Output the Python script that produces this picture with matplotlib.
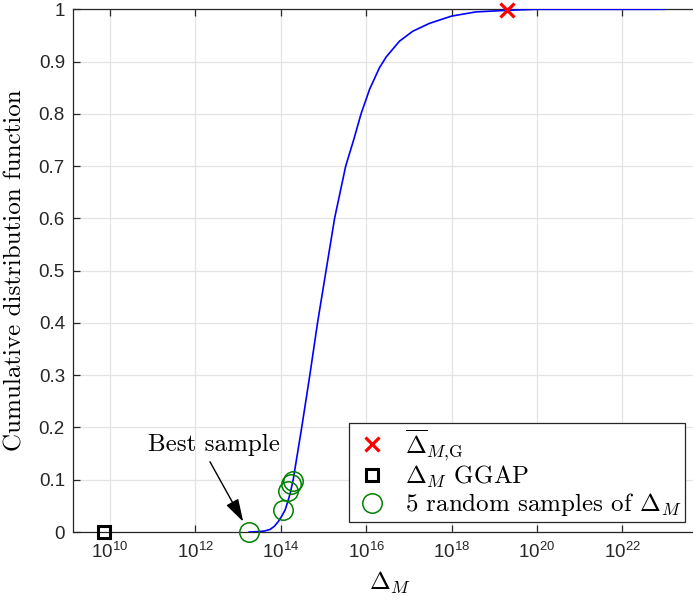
"""CDF of Delta_M with GGAP / mean markers and 5 random samples (log x axis)."""

import matplotlib

matplotlib.use("Agg")
import matplotlib.pyplot as plt  # noqa: E402
from matplotlib.ticker import FixedLocator, FuncFormatter, NullLocator  # noqa: E402

plt.rcParams["font.family"] = ["Liberation Sans", "DejaVu Sans"]
plt.rcParams["mathtext.fontset"] = "cm"

# CDF curve: log10(Delta_M) and F(Delta_M)
cdf_log10 = [13.26, 13.5, 13.62, 13.75, 13.85, 13.94, 14.02, 14.10, 14.16, 14.22,
             14.29, 14.39, 14.49, 14.68, 14.86, 15.06, 15.26, 15.52, 15.71, 15.88,
             16.08, 16.31, 16.47, 16.78, 17.09, 17.48, 18.0, 18.57, 19.28, 20.0,
             21.0, 23.0]
cdf_vals = [0.0, 0.001, 0.002, 0.005, 0.011, 0.020, 0.030, 0.042, 0.057, 0.074,
            0.10, 0.15, 0.20, 0.30, 0.40, 0.50, 0.60, 0.70, 0.751, 0.80,
            0.847, 0.888, 0.909, 0.939, 0.958, 0.973, 0.987, 0.995, 0.998, 1.0,
            1.0, 1.0]

# mean (G) marker
mean_log10 = [19.29]
mean_cdf = [0.999]

# GGAP marker
ggap_log10 = [9.87]
ggap_cdf = [0.0]

# 5 random samples (first one is the "best sample")
sample_log10 = [13.255, 14.06, 14.18, 14.25, 14.28]
sample_cdf = [0.0, 0.043, 0.078, 0.092, 0.097]

xticks_log10 = [10, 12, 14, 16, 18, 20, 22]
yticks = [0, 0.1, 0.2, 0.3, 0.4, 0.5, 0.6, 0.7, 0.8, 0.9, 1.0]

SERIF = "cmr10"
SPINE = "#262626"
GRID = "#e3e3e3"


def pw(v):
    return [10.0 ** e for e in v]


fig = plt.figure(figsize=(6.93, 6.0), dpi=100)
ax = fig.add_axes([0.1058, 0.1133, 0.9154, 0.8712])

ax.plot(pw(cdf_log10), cdf_vals, color="#0000ff", lw=1.2, zorder=3)
ax.plot(pw(mean_log10), mean_cdf, ls="none", marker="x", ms=10, mew=2.3,
        color="#ff0000", clip_on=False, zorder=5,
        label=r"$\overline{\Delta}_{M{,}\mathrm{G}}$")
ax.plot(pw(ggap_log10), ggap_cdf, ls="none", marker="s", ms=8, mew=2.2,
        mfc="none", mec="black", clip_on=False, zorder=5, label=r"$\Delta_M$ GGAP")
ax.plot(pw(sample_log10), sample_cdf, ls="none", marker="o", ms=14, mew=1.1,
        mfc="none", mec="#008000", clip_on=False, zorder=4,
        label=r"5 random samples of $\Delta_M$")

ax.set_xscale("log")
ax.set_xlim(10.0 ** 9.14, 10.0 ** 24)
ax.set_ylim(0, 1)
ax.xaxis.set_major_locator(FixedLocator(pw(xticks_log10)))
ax.xaxis.set_minor_locator(NullLocator())
ax.set_yticks(yticks)
ax.yaxis.set_major_formatter(FuncFormatter(lambda v, _: f"{v:g}"))

ax.grid(True, color=GRID, lw=0.9)
ax.set_axisbelow(True)
for s in ax.spines.values():
    s.set_color(SPINE)
    s.set_linewidth(0.9)
ax.tick_params(which="both", direction="in", top=True, right=True, length=5,
               width=0.9, color=SPINE, labelsize=13.5, labelcolor=SPINE)
ax.tick_params(axis="y", pad=6)
ax.tick_params(axis="x", pad=7)

ax.set_xlabel(r"$\Delta_M$", fontsize=18, family=SERIF, labelpad=6)
ax.set_ylabel("Cumulative distribution function", fontsize=18, family=SERIF,
              labelpad=9)

# "Best sample" callout
ax.text(10.0 ** 12.44, 0.166, "Best sample", fontsize=18, family=SERIF,
        ha="center", va="center")
ax.annotate("", xy=(10.0 ** 13.12, 0.0197), xytext=(10.0 ** 12.34, 0.1345),
            arrowprops={"arrowstyle": "-|>,head_length=1.0,head_width=0.3",
                        "mutation_scale": 14, "color": "black", "lw": 1.0,
                        "shrinkA": 0, "shrinkB": 0},
            zorder=6)

leg = ax.legend(loc="lower right", bbox_to_anchor=(0.9642, 0.0191),
                borderaxespad=0, prop={"family": SERIF, "size": 18},
                fancybox=False, framealpha=1, handletextpad=0.5,
                labelspacing=0.05, borderpad=0.15, handlelength=1.6)
leg.get_frame().set_edgecolor(SPINE)
leg.get_frame().set_linewidth(0.9)

fig.savefig("out.png", dpi=100)
